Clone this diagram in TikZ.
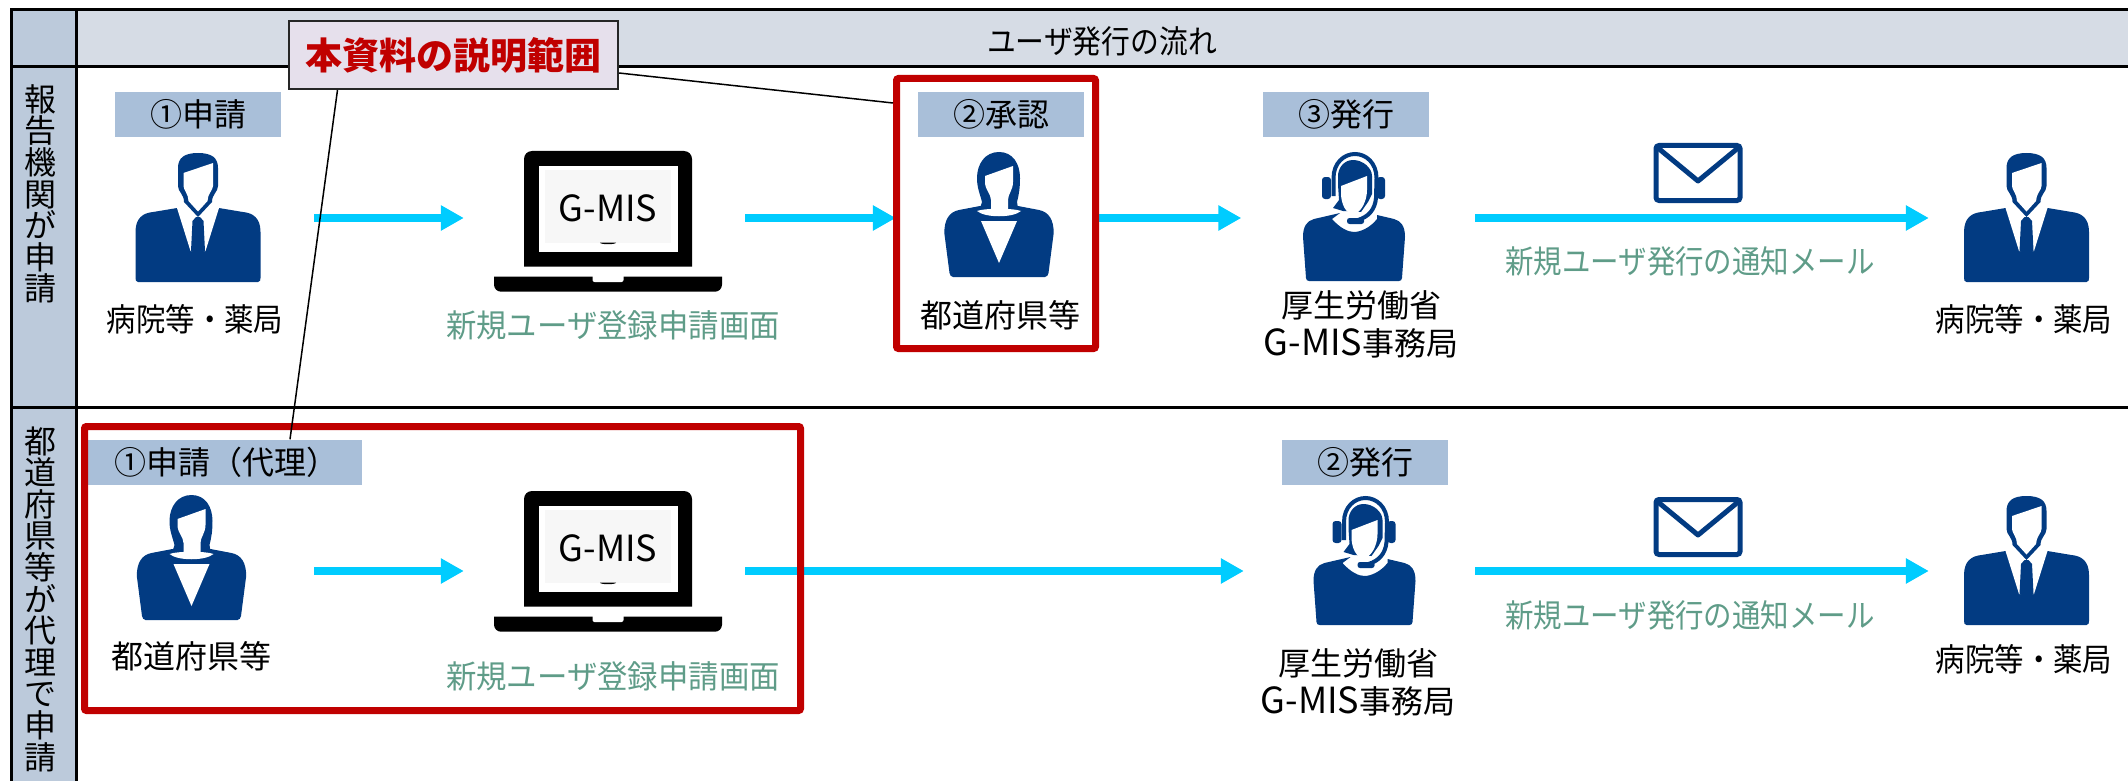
\documentclass[tikz,border=0pt]{standalone}
\usepackage{fontspec}
\usepackage{xcolor}
\usepackage{graphicx}
\setmainfont{Noto Sans CJK JP}
\usetikzlibrary{arrows.meta}
\definecolor{navyicon}{HTML}{023B82}
\definecolor{flowcyan}{HTML}{00CCFF}
\definecolor{tagblue}{HTML}{A9BFD9}
\definecolor{rowblue}{HTML}{BCCADB}
\definecolor{headblue}{HTML}{D6DCE5}
\definecolor{notelilac}{HTML}{E6E0EC}
\definecolor{markred}{HTML}{C00000}
\definecolor{screengreen}{HTML}{5F9C88}
\newcommand{\latinbig}[1]{{\fontsize{36}{38}\selectfont #1}}
\tikzset{
  lbl/.style={inner sep=0pt, font=\fontsize{32}{38}\selectfont},
  greenlbl/.style={lbl, text=screengreen},
  tagbox/.style={lbl, fill=tagblue, minimum height=45pt},
  iconbox/.style={inner sep=0pt, minimum height=130pt},
  flow/.style={flowcyan, line width=8pt, -{Triangle[length=23pt,width=24pt]}},
  markbox/.style={draw=markred, line width=7pt, rounded corners=2pt, inner sep=0pt},
  man/.pic={
    \fill[navyicon] (-60,64) .. controls (-62,64) and (-62.5,62) .. (-62.5,60) -- (-62.5,14)
      .. controls (-62.5,0) and (-55,-5) .. (-45,-6) -- (-21,-10) -- (21,-10) -- (45,-6)
      .. controls (55,-5) and (62.5,0) .. (62.5,14) -- (62.5,60)
      .. controls (62.5,62) and (62,64) .. (60,64) -- cycle;
    \fill[white] (-21,-10) -- (-7.5,33) -- (7.5,33) -- (21,-10) -- cycle;
    \fill[navyicon] (-2,-1) -- (2,-1) -- (5.5,3) -- (7,33) -- (0,36) -- (-7,33) -- (-5.5,3) -- cycle;
    \fill[navyicon] (0,-65) .. controls (-14,-65) and (-20,-60) .. (-20,-50) -- (-20,-32)
      .. controls (-20,-26) and (-14,-24) .. (-14,-16) -- (0,-1) -- (14,-16)
      .. controls (14,-24) and (20,-26) .. (20,-32) -- (20,-50) .. controls (20,-60) and (14,-65) .. (0,-65) -- cycle;
    \fill[white] (-14.5,-45) -- (15,-55) -- (15,-32) .. controls (15,-28) and (9.5,-24) .. (9.5,-17)
      -- (0,-6.5) -- (-9.5,-17) .. controls (-9.5,-24) and (-14.5,-28) .. (-14.5,-32) -- cycle;
  },
  woman/.pic={
    \fill[navyicon] (-46,59) .. controls (-48,59) and (-49,57) .. (-49.5,55) -- (-54.7,15)
      .. controls (-54.7,2) and (-50,-6) .. (-40,-8) -- (-19,-12) -- (19,-12) -- (40,-8)
      .. controls (50,-6) and (54.7,2) .. (54.7,15) -- (49.5,55)
      .. controls (49,57) and (48,59) .. (46,59) -- cycle;
    \fill[navyicon] (0,-66) .. controls (-14,-66) and (-22,-54) .. (-22,-40) .. controls (-22,-30) and (-19,-24) .. (-17,-16) -- (-19,-10)
      -- (19,-10) -- (18,-16) .. controls (20,-24) and (21,-30) .. (21,-40) .. controls (21,-54) and (14,-66) .. (0,-66) -- cycle;
    \fill[white] (-14,-42) -- (14,-52) -- (14,-36) .. controls (14,-28) and (9,-24) .. (9,-18) -- (9,-9) -- (-8,-9) -- (-8,-18)
      .. controls (-8,-24) and (-14,-28) .. (-14,-36) -- cycle;
    \fill[white] (-22,-7) .. controls (-14,-10) and (14,-10) .. (22,-7) .. controls (14,0) and (-14,0) .. (-22,-7) -- cycle;
    \fill[white] (-18,3) -- (18,3) -- (0,45) -- cycle;
  },
  operator/.pic={
    \fill[navyicon] (-45,63) .. controls (-47,63) and (-47.5,62) .. (-48,60) -- (-51,19)
      .. controls (-51,8) and (-47,3) .. (-40,1) -- (-14,-5) -- (-22,1) .. controls (-14,10) and (-6,14) .. (0,14)
      .. controls (6,14) and (16,10) .. (23,1) -- (23,-3) -- (40,1) .. controls (47,3) and (51,8) .. (51,19)
      -- (48,60) .. controls (47.5,62) and (47,63) .. (45,63) -- cycle;
    \draw[navyicon, line width=4pt] (-20.5,-22) -- (-20.5,-40) .. controls (-20.5,-55) and (-10,-64) .. (1,-64)
      .. controls (12,-64) and (22.5,-55) .. (22.5,-40) -- (22,-20) .. controls (21,-8) and (14,-1) .. (4,2);
    \fill[navyicon, rounded corners=3pt] (-32,-41) rectangle (-23,-19);
    \fill[navyicon, rounded corners=3pt] (23,-41) rectangle (31,-19);
    \fill[navyicon, rounded corners=2.5pt] (-7,0) rectangle (10,6);
    \fill[navyicon] (-1,-58) .. controls (-10,-58) and (-16,-50) .. (-16,-42) -- (-16,-33) -- (-15,-18) -- (-21,-10) -- (-11,-7) -- (7,-6)
      -- (14,-16) -- (18,-24) -- (18,-42) .. controls (18,-50) and (9,-58) .. (-1,-58) -- cycle;
    \fill[white] (-13,-32) -- (13,-42) -- (13,-28) .. controls (13,-16) and (6,-4) .. (-1,-4)
      .. controls (-8,-4) and (-13,-14) .. (-13,-25) -- cycle;
  },
  laptop/.pic={
    \fill[black, rounded corners=8pt] (-84,48.7) -- (-84,-67) -- (84,-67) -- (84,48.7);
    \fill[white] (-69.5,-52) rectangle (69.5,34);
    \fill[black!3!white] (-63.5,-48) rectangle (62.5,24.7);
    \fill[black] (-8,24.7) arc[start angle=180, end angle=360, x radius=8pt, y radius=1.5pt] -- cycle;
    \fill[black, rounded corners=7pt] (-114,58.7) -- (-114,73.7) -- (114,73.7) -- (114,58.7);
    \fill[white, rounded corners=2pt] (-15.5,58) -- (-15.5,64) -- (15.5,64) -- (15.5,58);
    \node[lbl] at (0,-10) {\latinbig{G-MIS}};
  },
  mailicon/.pic={
    \draw[navyicon, line width=5pt, rounded corners=3pt] (-42,-27.5) rectangle (42,27.5);
    \draw[navyicon, line width=5pt, line join=round] (-40,-25) -- (0,8) -- (40,-25);
  },
}
\begin{document}
\begin{tikzpicture}[x=1pt, y=-1pt]
\useasboundingbox (0,0) rectangle (2128,781);
% Table
\fill[rowblue] (11,10) rectangle (76,781);
\fill[headblue] (76,10) rectangle (2128,67);
\draw[line width=3pt] (2128,10) -- (11,10) -- (11,781);
\draw[line width=3pt] (76,10) -- (76,781);
\draw[line width=3pt] (11,67) -- (2128,67);
\draw[line width=3pt] (11,407) -- (2128,407);
\node[lbl] (flowtitle) at (1102,41) {\scalebox{.9}[1]{ユーザ発行の流れ}};
\node[lbl, align=center, font=\fontsize{32}{31.6}\selectfont] (rowA) at (40,194) {報\\告\\機\\関\\が\\申\\請};
\node[lbl, align=center, font=\fontsize{32}{31.6}\selectfont] (rowB) at (40,599) {都\\道\\府\\県\\等\\が\\代\\理\\で\\申\\請};
% Tags
\node[tagbox, minimum width=166pt] (tagA) at (198,114.5) {①申請};
\node[tagbox, minimum width=166pt] (tagB) at (1001,114.5) {②承認};
\node[tagbox, minimum width=166pt] (tagD) at (1346,114.5) {③発行};
\node[tagbox, minimum width=274pt, text width=274pt, align=left] (tagC) at (225,462) {\hspace*{26pt}①申請（代理）};
\node[tagbox, minimum width=166pt] (tagE) at (1365,462) {②発行};
% Icons, first row
\node[iconbox, minimum width=125pt] (manA) at (198,218) {};
\pic at (198,218) {man};
\node[iconbox, minimum width=228pt] (pcA) at (608,218) {};
\pic at (608,218) {laptop};
\node[iconbox, minimum width=109pt] (womanA) at (999,218) {};
\pic at (999,218) {woman};
\node[iconbox, minimum width=102pt] (opA) at (1354,218) {};
\pic at (1354,218) {operator};
\node[iconbox, minimum width=125pt] (manB) at (2026.5,218) {};
\pic at (2026.5,218) {man};
\pic at (1698,173) {mailicon};
% Icons, second row
\node[iconbox, minimum width=109pt] (womanC) at (191.5,571) {};
\pic at (191.5,561) {woman};
\node[iconbox, minimum width=228pt] (pcC) at (608,571) {};
\pic at (608,558) {laptop};
\node[iconbox, minimum width=102pt] (opC) at (1364.5,571) {};
\pic at (1364.5,562) {operator};
\node[iconbox, minimum width=125pt] (manD) at (2026.5,571) {};
\pic at (2026.5,561) {man};
\pic at (1698,527) {mailicon};
% Labels
\node[lbl] (nameA) at (195,319) {\scalebox{.92}[1]{病院等・薬局}};
\node[greenlbl] (screenA) at (613,325) {\scalebox{.95}[1]{新規ユーザ登録申請画面}};
\node[lbl] (nameB) at (1000,315) {都道府県等};
\node[lbl, align=center] (nameD) at (1361,324) {厚生労働省\\\latinbig{G-MIS}事務局};
\node[greenlbl] (mailA) at (1690,261) {\scalebox{.89}[1]{新規ユーザ発行の通知メール}};
\node[lbl] (nameE) at (2024,319) {\scalebox{.92}[1]{病院等・薬局}};
\node[lbl] (nameC) at (191.5,656) {都道府県等};
\node[greenlbl] (screenC) at (613,676) {\scalebox{.95}[1]{新規ユーザ登録申請画面}};
\node[lbl, align=center] (nameF) at (1358,682) {厚生労働省\\\latinbig{G-MIS}事務局};
\node[greenlbl] (mailC) at (1690,615) {\scalebox{.89}[1]{新規ユーザ発行の通知メール}};
\node[lbl] (nameG) at (2024,659) {\scalebox{.92}[1]{病院等・薬局}};
% Arrows
\draw[flow, shorten <=53.5pt, shorten >=30pt] (manA.east) -- (pcA.west);
\draw[flow, shorten <=23pt, shorten >=48.5pt] (pcA.east) -- (womanA.west);
\draw[flow, shorten <=45.5pt, shorten >=61.5pt] (womanA.east) -- (opA.west);
\draw[flow, shorten <=70pt, shorten >=35pt] (opA.east) -- (manB.west);
\draw[flow, shorten <=68pt, shorten >=30pt] (womanC.east) -- (pcC.west);
\draw[flow, shorten <=23pt, shorten >=69.5pt] (pcC.east) -- (opC.west);
\draw[flow, shorten <=59.5pt, shorten >=35pt] (opC.east) -- (manD.west);
% Red frames
\node[markbox, minimum width=199pt, minimum height=270pt] (frameA) at (996,213.5) {};
\node[markbox, minimum width=716pt, minimum height=284pt] (frameB) at (442.5,568.5) {};
% Note
\node[draw=black!85, line width=2pt, fill=notelilac, minimum width=329pt, minimum height=68pt, inner sep=0pt,
  text=markred, font=\fontsize{37}{40}\selectfont\bfseries] (note) at (453.5,55) {本資料の説明範囲};
\draw[line width=1.5pt] ([yshift=-18pt]note.east) -- ([yshift=-28pt]frameA.north west);
\draw[line width=1.5pt] ([xshift=-116pt]note.south) -- ([xshift=65pt]tagC.north);
\end{tikzpicture}
\end{document}
